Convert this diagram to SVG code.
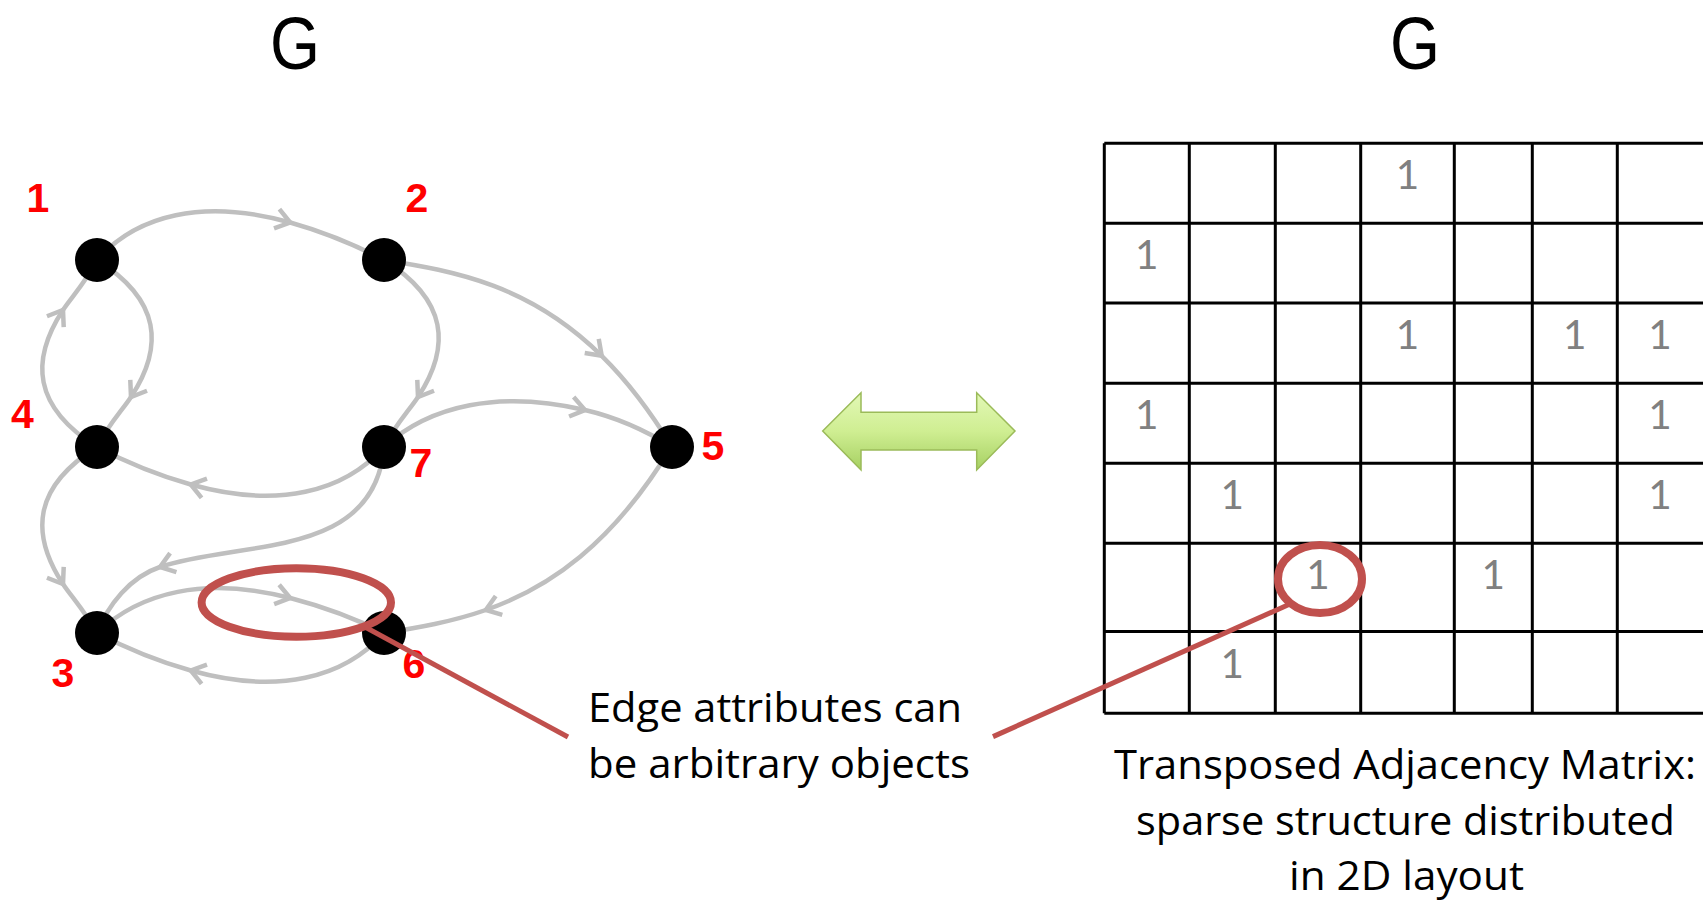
<svg xmlns="http://www.w3.org/2000/svg" width="1703" height="900" viewBox="0 0 1703 900">
<style>
.edge{fill:none;stroke:#BFBFBF;stroke-width:4.5;marker-mid:url(#chev)}
.node{fill:#000}
.nlab{font-family:"Liberation Sans",Arial,sans-serif;font-weight:bold;font-size:41px;fill:#FF0000;text-anchor:middle}
.title{font-family:"Liberation Sans",Arial,sans-serif;font-size:74px;fill:#000}
.txt{font-family:"Open Sans","Noto Sans",sans-serif;font-size:41px;fill:#000}
.one{font-family:Lato,"Open Sans",sans-serif;font-size:40.5px;fill:#808080;text-anchor:middle}
.grid{fill:none;stroke:#000;stroke-width:3}
.red{fill:none;stroke:#C0504D}
</style>
<defs>
<marker id="chev" markerUnits="userSpaceOnUse" viewBox="-20 -15 30 30" markerWidth="30" markerHeight="30" refX="0" refY="0" orient="auto" overflow="visible">
<path d="M-14,-10 L0,0 L-14,10" fill="none" stroke="#BFBFBF" stroke-width="4.5"/>
</marker>
<linearGradient id="grn" x1="0" y1="0" x2="0" y2="1">
<stop offset="0" stop-color="#E2F8B6"/>
<stop offset="0.5" stop-color="#CFEE92"/>
<stop offset="1" stop-color="#A6D062"/>
</linearGradient>
</defs>
<rect width="1703" height="900" fill="#fff"/>

<text class="title" x="270" y="69" textLength="50" lengthAdjust="spacingAndGlyphs">G</text>
<text class="title" x="1390" y="69" textLength="50" lengthAdjust="spacingAndGlyphs">G</text>

<g id="connectors">
<path class="edge" d="M97,260 C136.75,215 202.9,198.1 290.2,222.5 C319.1,230.6 350.5,242.5 384,260"/>
<path class="edge" d="M384,260 C448,300 451,346.6 418,397 C409.8,409.6 395,425 384,447"/>
<path class="edge" d="M97,260 C161,300 164,346.6 131,397 C122.8,409.6 108,425 97,447"/>
<path class="edge" d="M97,447 C33,407 30,360.4 63,310 C71.2,297.4 86,282 97,260"/>
<path class="edge" d="M384,447 C344.25,492 278.1,508.9 190.8,484.5 C161.9,476.4 130.5,464.5 97,447"/>
<path class="edge" d="M97,447 C33,487 30,533.6 63,584 C71.2,596.6 86,612 97,634"/>
<path class="edge" d="M384,447 C375,560 240,540 160,567 C130,577 108,605 97,633"/>
<path class="edge" d="M97,633 C140,592 205,576 290.2,598 C319,605.5 350.5,616 384,633"/>
<path class="edge" d="M384,633 C344.25,678 278.1,694.9 190.8,670.5 C161.9,662.4 130.5,650.5 97,633"/>
<path class="edge" d="M672,446 C612.2,544.8 549,587.8 485.8,610 C451.7,621.9 417.6,627.75 384,633"/>
<path class="edge" d="M384,260 C456,271.25 530.25,285.3 601.7,355.8 C625.5,379.25 649,409 672,447"/>
<path class="edge" d="M384,447 C430,405 500,390 585,410 C615,417 645,430 672,447"/>
</g>

<g id="node1"><circle class="node" cx="97" cy="260" r="22"/><text class="nlab" x="38" y="212">1</text></g>
<g id="node2"><circle class="node" cx="384" cy="260" r="22"/><text class="nlab" x="417" y="212">2</text></g>
<g id="node3"><circle class="node" cx="97" cy="633" r="22"/><text class="nlab" x="63" y="687">3</text></g>
<g id="node4"><circle class="node" cx="97" cy="447" r="22"/><text class="nlab" x="22.5" y="428">4</text></g>
<g id="node5"><circle class="node" cx="672" cy="447" r="22"/><text class="nlab" x="713" y="460">5</text></g>
<g id="node6"><circle class="node" cx="384" cy="633" r="22"/><text class="nlab" x="414" y="678">6</text></g>
<g id="node7"><circle class="node" cx="384" cy="447" r="22"/><text class="nlab" x="421" y="477">7</text></g>

<g id="double-arrow">
<polygon points="822.7,431 861,392.7 861,412.3 976.7,412.3 976.7,392.7 1015,431 976.7,470 976.7,450 861,450 861,470" fill="url(#grn)" stroke="#9BBB59" stroke-width="1.5" stroke-linejoin="miter"/>
</g>

<g id="matrix">
<path class="grid" d="M1104.3,143.3 H1703 M1104.3,223.3 H1703 M1104.3,303 H1703 M1104.3,383.3 H1703 M1104.3,463.3 H1703 M1104.3,543.3 H1703 M1104.3,631.5 H1703 M1104.3,713.3 H1703 M1104.3,143.3 V713.3 M1189.3,143.3 V713.3 M1275.3,143.3 V713.3 M1360.7,143.3 V713.3 M1454.3,143.3 V713.3 M1532.3,143.3 V713.3 M1617.3,143.3 V713.3"/>
<text class="one" x="1407.5" y="189.3">1</text>
<text class="one" x="1146.8" y="269.3">1</text>
<text class="one" x="1407.5" y="349">1</text>
<text class="one" x="1574.8" y="349">1</text>
<text class="one" x="1660" y="349">1</text>
<text class="one" x="1146.8" y="429.3">1</text>
<text class="one" x="1660" y="429.3">1</text>
<text class="one" x="1232.3" y="509.3">1</text>
<text class="one" x="1660" y="509.3">1</text>
<text class="one" x="1318" y="589.3">1</text>
<text class="one" x="1493.3" y="589.3">1</text>
<text class="one" x="1232.3" y="677.5">1</text>
</g>

<g id="annotation">
<ellipse class="red" cx="296.3" cy="602.5" rx="94.7" ry="34.2" stroke-width="8"/>
<line class="red" x1="365" y1="627" x2="568" y2="737" stroke-width="5"/>
<line class="red" x1="993" y1="736.6" x2="1290" y2="604" stroke-width="5"/>
<ellipse class="red" cx="1320" cy="579" rx="42" ry="34" stroke-width="8"/>
<text class="txt" x="588" y="721.7" textLength="374" lengthAdjust="spacingAndGlyphs">Edge attributes can</text>
<text class="txt" x="588" y="778" textLength="382" lengthAdjust="spacingAndGlyphs">be arbitrary objects</text>
</g>

<g id="caption">
<text class="txt" x="1114" y="779" textLength="582" lengthAdjust="spacingAndGlyphs">Transposed Adjacency Matrix:</text>
<text class="txt" x="1136" y="835" textLength="539" lengthAdjust="spacingAndGlyphs">sparse structure distributed</text>
<text class="txt" x="1289" y="890" textLength="235" lengthAdjust="spacingAndGlyphs">in 2D layout</text>
</g>
</svg>
